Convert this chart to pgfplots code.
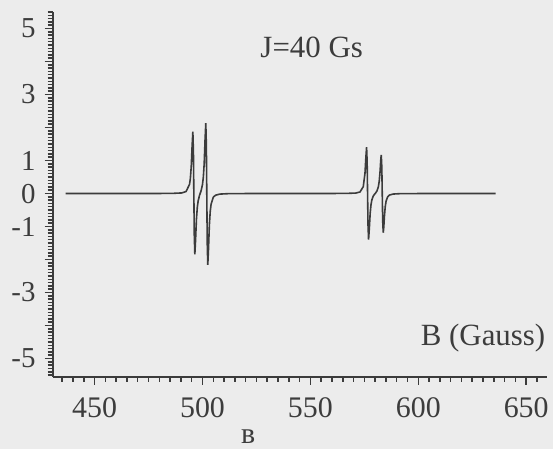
\documentclass[border=0pt]{standalone}
\usepackage{fontspec}
\setmainfont{Liberation Serif}
\usepackage{pgfplots}
\pgfplotsset{compat=1.18}
\definecolor{bg}{HTML}{ECECEC}
\definecolor{ink}{HTML}{3C3C3C}
\begin{document}
\begin{tikzpicture}
\fill[bg] (-52.7bp,-72.3bp) rectangle (500.3bp,376.7bp);
\begin{axis}[
  at={(0,0)}, anchor=south west,
  scale only axis, width=494bp, height=365bp,
  xmin=430.6, xmax=659.5, ymin=-5.55, ymax=5.51,
  axis lines=left, axis line style={-, ink, line width=1.7bp},
  tick align=outside, tick style={ink, line width=1.5bp},
  major tick length=8bp, minor tick length=5bp,
  xtick={450,500,...,650},
  minor xtick={435,440,...,660},
  ytick={-5,...,5}, yticklabels={-5,,-3,,-1,0,1,,3,,5},
  minor ytick={-5.5,-5.4,...,5.5},
  /pgf/number format/assume math mode=true,
  x tick label style={font=\fontsize{30}{30}\selectfont, text=ink, inner sep=0pt, yshift=-13bp},
  y tick label style={font=\fontsize{29}{29}\selectfont, text=ink, inner sep=0pt, xshift=-9bp},
  clip=false,
]
\addplot[ink, line width=1.6bp] table {
x y
436.6 0
485.4 0.003
490.4 0.018
492.4 0.061
494.0 0.279
494.4 0.465
494.8 0.822
495.2 1.443
495.54 1.872
495.8 1.283
496.0 0.015
496.2 -1.252
496.46 -1.841
496.8 -1.409
497.2 -0.784
497.6 -0.420
498.0 -0.223
498.6 -0.062
499.0 0.015
499.4 0.094
500.0 0.272
500.4 0.497
500.8 0.915
501.2 1.636
501.54 2.134
501.8 1.452
502.0 -0.013
502.2 -1.478
502.46 -2.161
502.8 -1.665
503.2 -0.948
503.6 -0.535
504.0 -0.321
505.0 -0.113
506.0 -0.052
508.0 -0.017
511.4 -0.005
520 0
566 0.003
571 0.014
573 0.048
574.5 0.208
575.3 0.615
575.7 1.082
576.04 1.405
576.3 0.960
576.5 0.006
576.7 -0.949
576.96 -1.393
577.3 -1.070
577.7 -0.602
578.1 -0.331
578.5 -0.189
579.1 -0.081
579.7 -0.024
580.3 0.023
580.9 0.085
581.5 0.206
581.9 0.372
582.3 0.681
582.6 1.010
582.84 1.172
583.1 0.797
583.3 -0.007
583.5 -0.811
583.76 -1.186
584.0 -1.025
584.3 -0.697
584.7 -0.389
585.1 -0.226
585.8 -0.101
586.7 -0.045
588.3 -0.016
591 -0.005
600 0
635.8 0
};
\node[anchor=base, font=\fontsize{31}{31}\selectfont, text=ink] at (axis cs:550.6,4.12) {J=40 Gs};
\node[anchor=base, font=\fontsize{31}{31}\selectfont, text=ink] at (axis cs:630,-4.61) {B (Gauss)};
\node[anchor=base, font=\fontsize{30}{30}\selectfont, text=ink] at (axis cs:521.2,-7.57) {в};
\end{axis}
\pgfresetboundingbox
\useasboundingbox (-52.7bp,-72.3bp) rectangle (500.3bp,376.7bp);
\end{tikzpicture}
\end{document}
